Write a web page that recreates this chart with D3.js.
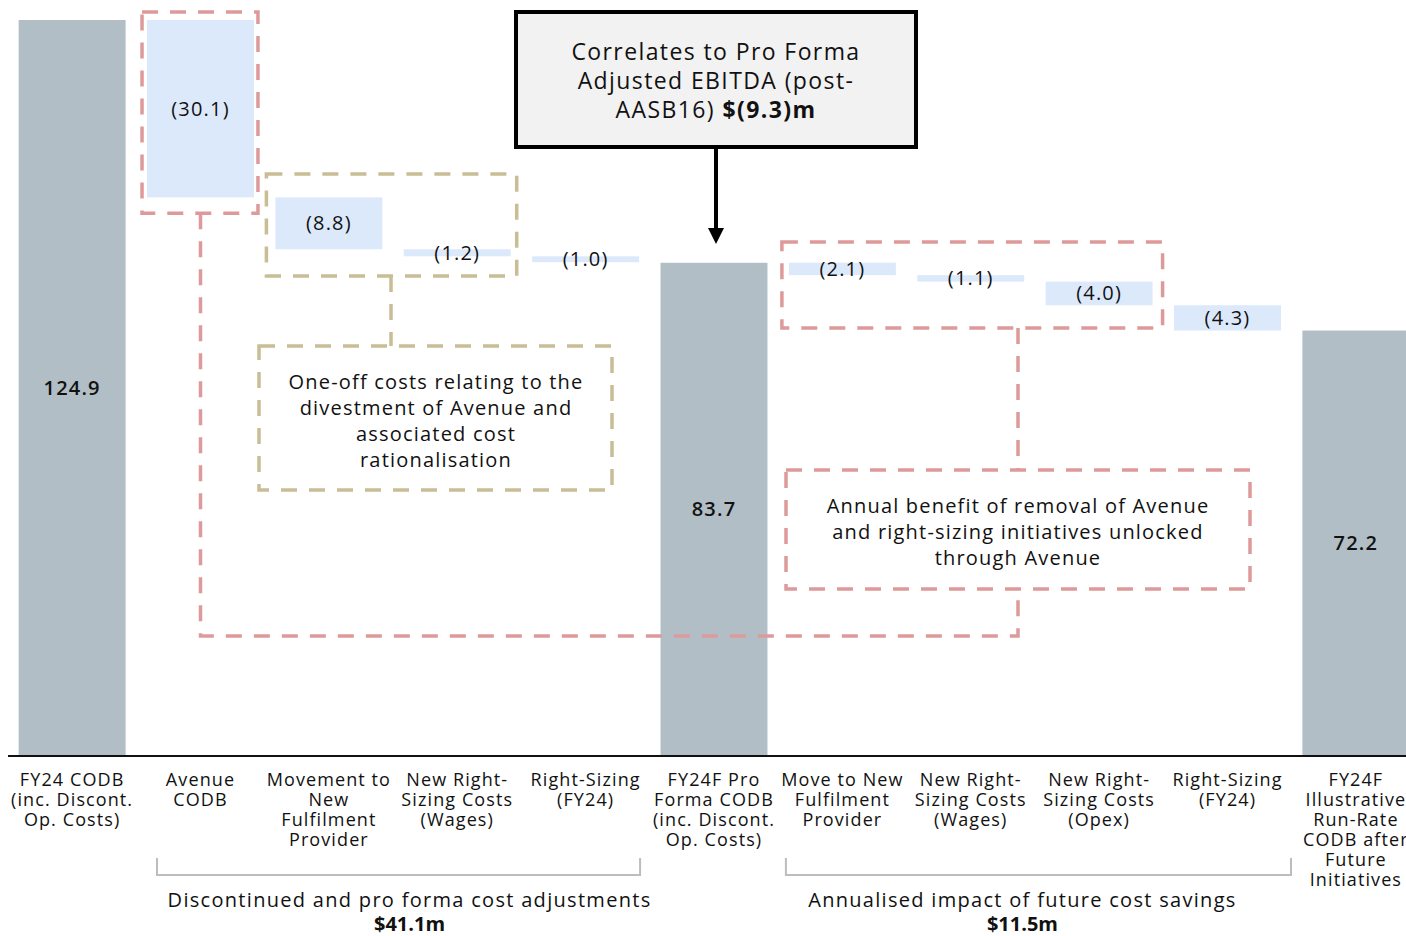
<!DOCTYPE html>
<html>
<head>
<meta charset="utf-8">
<script src="https://cdn.jsdelivr.net/npm/d3@7"></script>
<style>
  body { margin: 0; background: #fff; }
  svg text { font-family: "Open Sans", sans-serif; fill: #111; }
</style>
</head>
<body>
<svg width="1406" height="936"></svg>
<script>
// categories (multi-line labels)
var categories = [
  ["FY24 CODB", "(inc. Discont.", "Op. Costs)"],
  ["Avenue", "CODB"],
  ["Movement to", "New", "Fulfilment", "Provider"],
  ["New Right-", "Sizing Costs", "(Wages)"],
  ["Right-Sizing", "(FY24)"],
  ["FY24F Pro", "Forma CODB", "(inc. Discont.", "Op. Costs)"],
  ["Move to New", "Fulfilment", "Provider"],
  ["New Right-", "Sizing Costs", "(Wages)"],
  ["New Right-", "Sizing Costs", "(Opex)"],
  ["Right-Sizing", "(FY24)"],
  ["FY24F", "Illustrative", "Run-Rate", "CODB after", "Future", "Initiatives"]
];
var values = [124.9, -30.1, -8.8, -1.2, -1.0, 83.7, -2.1, -1.1, -4.0, -4.3, 72.2];
var isTotal = [true, false, false, false, false, true, false, false, false, false, true];
var valueLabels = ["124.9", "(30.1)", "(8.8)", "(1.2)", "(1.0)", "83.7", "(2.1)", "(1.1)", "(4.0)", "(4.3)", "72.2"];

var groupLabels = [
  {from: 1, to: 4, text: "Discontinued and pro forma cost adjustments", total: "$41.1m"},
  {from: 6, to: 9, text: "Annualised impact of future cost savings", total: "$11.5m"}
];

var svg = d3.select("svg");
var baseY = 756;

var x = d3.scaleBand()
  .domain(d3.range(categories.length))
  .range([8, 1420])
  .paddingInner(0.167)
  .paddingOuter(0.083);

var y = d3.scaleLinear().domain([0, 124.9]).range([baseY, 20]);

// waterfall start/end
var run = 0;
var bars = values.map(function(v, i) {
  var b;
  if (isTotal[i]) { b = {i: i, y0: 0, y1: v}; run = v; }
  else { b = {i: i, y0: run + v, y1: run}; run = run + v; }
  return b;
});

var red = "#de9a9a", tan = "#c9bd96";
var dash = "16,12";

// bars
svg.append("g").selectAll("rect")
  .data(bars)
  .enter().append("rect")
  .attr("x", function(d) { return x(d.i); })
  .attr("width", x.bandwidth())
  .attr("y", function(d) { return y(d.y1); })
  .attr("height", function(d) { return y(d.y0) - y(d.y1); })
  .attr("fill", function(d) { return isTotal[d.i] ? "#b1bec5" : "#dce9fb"; });

svg.append("g").selectAll("text")
  .data(bars)
  .enter().append("text")
  .attr("x", function(d) { return x(d.i) + x.bandwidth() / 2; })
  .attr("y", function(d) { return (y(d.y0) + y(d.y1)) / 2; })
  .attr("dy", "0.35em")
  .attr("text-anchor", "middle")
  .style("font-size", "20px")
  .style("letter-spacing", "1.2px")
  .style("font-weight", function(d) { return isTotal[d.i] ? 600 : 400; })
  .text(function(d) { return valueLabels[d.i]; });

// axis
var axis = svg.append("g")
  .attr("transform", "translate(0," + baseY + ")")
  .call(d3.axisBottom(x).tickSize(0).tickFormat(""));
axis.select(".domain").attr("d", "M8,0H1406").attr("stroke", "#111").attr("stroke-width", 2);

var lab = svg.append("g").selectAll("text")
  .data(categories)
  .enter().append("text")
  .attr("text-anchor", "middle")
  .style("font-size", "18px")
  .style("letter-spacing", "1.1px")
  .attr("transform", function(d, i) { return "translate(" + (x(i) + x.bandwidth() / 2) + ",786)"; });
lab.selectAll("tspan")
  .data(function(d) { return d; })
  .enter().append("tspan")
  .attr("x", 0)
  .attr("y", function(d, j) { return j * 20; })
  .text(function(d) { return d; });

// group brackets
var bracketPad = [[10, 1], [-3, 10]];
var textShift = [11, -16];
var gb = svg.append("g").selectAll("g")
  .data(groupLabels)
  .enter().append("g");
gb.append("path")
  .attr("fill", "none")
  .attr("stroke", "#bdbdbd")
  .attr("stroke-width", 2)
  .attr("d", function(d, k) {
    var x0 = x(d.from) + bracketPad[k][0], x1 = x(d.to) + x.bandwidth() + bracketPad[k][1];
    return "M" + x0 + ",858V875H" + x1 + "V858";
  });
function groupMid(d, k) {
  return (x(d.from) + bracketPad[k][0] + x(d.to) + x.bandwidth() + bracketPad[k][1]) / 2 + textShift[k];
}
gb.append("text")
  .attr("x", groupMid)
  .attr("y", 907)
  .attr("text-anchor", "middle")
  .style("font-size", "20px")
  .style("letter-spacing", "1.3px")
  .text(function(d) { return d.text; });
gb.append("text")
  .attr("x", groupMid)
  .attr("y", 931)
  .attr("text-anchor", "middle")
  .style("font-size", "20px")
  .style("font-weight", 700)
  .text(function(d) { return d.total; });

// annotations
var ann = svg.append("g").attr("fill", "none").attr("stroke-width", 3.5).attr("stroke-dasharray", dash);

function dashedRect(x0, y0, x1, y1, col) {
  ann.append("rect").attr("x", x0).attr("y", y0).attr("width", x1 - x0).attr("height", y1 - y0)
    .attr("stroke", col);
}
function dashedPath(d, col) {
  ann.append("path").attr("d", d).attr("stroke", col);
}

// box round Avenue CODB
var aL = x(1) - 5, aR = x(1) + x.bandwidth() + 4;
dashedRect(aL, 12, aR, y(bars[1].y0) + 16, red);
// box round one-off items
dashedRect(x(2) - 9, 174, x(3) + x.bandwidth() + 6, 276, tan);
// box round future savings
dashedRect(x(6) - 7, 242, x(8) + x.bandwidth() + 10, 328, red);

var midAve = x(1) + x.bandwidth() / 2;
var midFut = 1018;
dashedPath("M" + midAve + "," + (y(bars[1].y0) + 16) + "V636H" + midFut + "V589", red);
dashedPath("M" + midFut + ",328V470", red);
dashedRect(786, 470, 1250, 589, red);

dashedPath("M391,276V346", tan);
dashedRect(259, 346, 612, 490, tan);

function block(lines, cx, y0, lh, size) {
  var t = svg.append("text").attr("text-anchor", "middle").style("font-size", size + "px")
    .style("letter-spacing", "1.2px");
  lines.forEach(function(l, j) {
    t.append("tspan").attr("x", cx).attr("y", y0 + j * lh).text(l);
  });
  return t;
}
block(["One-off costs relating to the", "divestment of Avenue and", "associated cost", "rationalisation"], 436, 389, 26, 20);
block(["Annual benefit of removal of Avenue", "and right-sizing initiatives unlocked", "through Avenue"], 1018, 513, 26, 20);

// callout
svg.append("rect").attr("x", 516).attr("y", 12).attr("width", 400).attr("height", 135)
  .attr("fill", "#f2f2f2").attr("stroke", "#000").attr("stroke-width", 4);
var ct = svg.append("text").attr("text-anchor", "middle").style("font-size", "23px")
  .style("letter-spacing", "1.4px");
ct.append("tspan").attr("x", 716).attr("y", 60).text("Correlates to Pro Forma");
ct.append("tspan").attr("x", 716).attr("y", 89).text("Adjusted EBITDA (post-");
var l3 = ct.append("tspan").attr("x", 716).attr("y", 118);
l3.append("tspan").text("AASB16) ");
l3.append("tspan").style("font-weight", 700).text("$(9.3)m");

svg.append("line").attr("x1", 716).attr("x2", 716).attr("y1", 149).attr("y2", 230)
  .attr("stroke", "#000").attr("stroke-width", 4);
svg.append("path").attr("d", "M708,228L724,228L716,244Z").attr("fill", "#000");
</script>
</body>
</html>
